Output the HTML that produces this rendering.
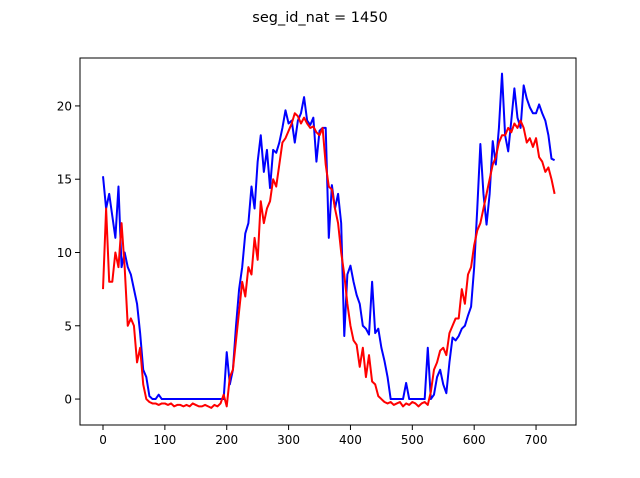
<!DOCTYPE html>
<html><head><meta charset="utf-8"><style>
html,body{margin:0;padding:0;background:#fff;}
svg{display:block;font-family:"DejaVu Sans","Liberation Sans",sans-serif;}
</style></head><body>
<svg id="chart" width="640" height="478" viewBox="0 0 640 478" xmlns="http://www.w3.org/2000/svg">
<rect width="640" height="478" fill="#fff"/>
<text x="320" y="22" text-anchor="middle" font-size="14.5">seg_id_nat = 1450</text>
<g id="plot"></g>
</svg>
<script>
const step = 5;
const blueVals = [15.2,13,14,12.5,11,14.5,9,10,9,8.5,
7.5,6.5,4.5,2,1.5,0.2,0,0,0.3,0,
0,0,0,0,0,0,0,0,0,0,
0,0,0,0,0,0,0,0,0,0,
3.2,1,2,5,7.5,9,11.3,12,14.5,13,
16.2,18,15.5,17,14.4,17,16.8,17.5,18.5,19.7,
18.8,19,17.5,19,19.5,20.6,19,18.7,19.2,16.2,
18.3,18.5,18.5,11,14.6,13,14,12,4.3,8.5,
9.1,8,7.1,6.5,5,4.8,4.4,8,4.5,4.8,
3.5,2.6,1.5,0,0,0,0,0,1.1,0,
0,0,0,0,0,3.5,0,0.3,1.5,2,
1,0.4,2.5,4.2,4,4.3,4.8,5,5.7,6.3,
9,13,17.4,14,11.9,14,17.6,16,18.5,22.2,
18,16.9,19,21.2,19.2,18.5,21.4,20.5,19.9,19.5,
19.5,20.1,19.5,19,18,16.4,16.3];
const redVals = [7.5,13,8,8,10,9,12,9,5,5.5,
5,2.5,3.5,1,0,-0.2,-0.3,-0.3,-0.4,-0.3,
-0.3,-0.4,-0.3,-0.5,-0.4,-0.4,-0.5,-0.4,-0.5,-0.3,
-0.4,-0.5,-0.5,-0.4,-0.5,-0.6,-0.4,-0.5,-0.3,0.3,
-0.5,1.5,2,4,6,8,7,9,8.5,11,
9.5,13.5,12,13,13.5,15,14.5,16,17.5,17.8,
18.3,18.8,19.5,19.3,18.8,19.2,18.8,18.5,18.6,18.2,
18,18.5,16,14.5,14.3,13,12,10,8.5,6.5,
5,4,3.7,2.2,3.5,1.5,3,1.2,1,0.2,
0,-0.2,-0.3,-0.2,-0.4,-0.3,-0.2,-0.5,-0.3,-0.4,
-0.2,-0.3,-0.5,-0.3,-0.2,-0.4,0.5,2,2.5,3.3,
3.5,3,4.5,5,5.5,5.5,7.5,6.5,8.5,9,
10.5,11.5,12,13,14,15,16,16.5,17.5,18,
18,18.5,18.2,18.8,18.5,19,18.5,17.5,17.8,17.2,
17.8,16.5,16.2,15.5,15.8,15,14];
const xTicks = [0,100,200,300,400,500,600,700];
const yTicks = [0,5,10,15,20];

const L=80,R=576,T=58,B=425;
const xMin=-37.2,xMax=764.6,yMin=-1.77,yMax=23.27;
const sx=v=>L+(v-xMin)/(xMax-xMin)*(R-L);
const sy=v=>B-(v-yMin)/(yMax-yMin)*(B-T);
const NS="http://www.w3.org/2000/svg";
const g=document.getElementById('plot');
function mk(t,a){const e=document.createElementNS(NS,t);for(const k in a)e.setAttribute(k,a[k]);g.appendChild(e);return e;}

function series(vals,color,name){
  const d=vals.map((v,i)=>(i?'L':'M')+sx(i*step).toFixed(2)+' '+sy(v).toFixed(2)).join(' ');
  const p=mk('path',{d:d,fill:'none',stroke:color,'stroke-width':2,'stroke-linejoin':'round'});
  
  
}
series(blueVals,'#0000ff','blue-series-line');
series(redVals,'#ff0000','red-series-line');

const frame=mk('rect',{x:L,y:T,width:R-L,height:B-T,fill:'none',stroke:'#000','stroke-width':1});



xTicks.forEach(t=>{
  const x=sx(t);
  const tk=mk('line',{x1:x,x2:x,y1:B,y2:B+5,stroke:'#000','stroke-width':1});
  
  
  const lb=mk('text',{x:x,y:B+19,'text-anchor':'middle','font-size':12});
  lb.textContent=t;
  
  
});
yTicks.forEach(t=>{
  const y=sy(t);
  const tk=mk('line',{x1:L-5,x2:L,y1:y,y2:y,stroke:'#000','stroke-width':1});
  
  
  const lb=mk('text',{x:L-8,y:y+4.5,'text-anchor':'end','font-size':12});
  lb.textContent=t;
  
  
});
</script>
</body></html>
